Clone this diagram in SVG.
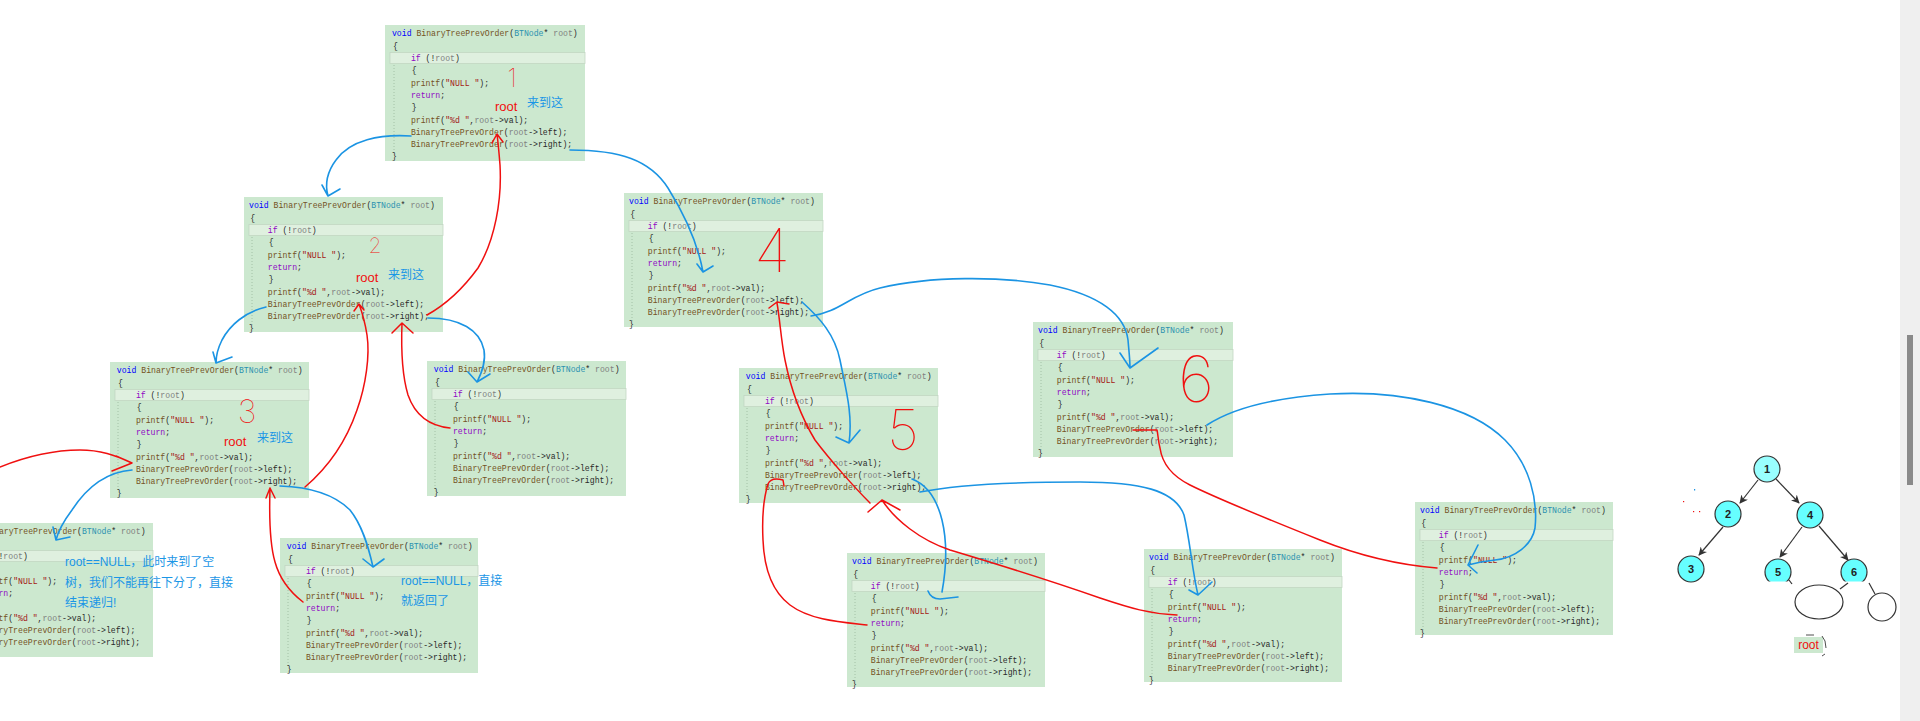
<svg xmlns="http://www.w3.org/2000/svg" width="1920" height="721" viewBox="0 0 1920 721">
<style>
.bg{fill:#cce8cf}
.hl{fill:#dff0df;stroke:#c2d6c3;stroke-width:0.8}
.guide{stroke:#9bb79d;stroke-width:0.8;stroke-dasharray:1 2}
.code{font-family:"Liberation Mono","DejaVu Sans Mono",monospace;font-size:9.6px;fill:#2a2a2a}
.k{fill:#0000ff}.f{fill:#74531f}.t{fill:#2b91af}.p{fill:#808080}.c{fill:#8f08c4}.s{fill:#a31515}
.bl{fill:none;stroke:#1b94e3;stroke-width:1.6;stroke-linecap:round;stroke-linejoin:round}
.rd{fill:none;stroke:#f01010;stroke-width:1.5;stroke-linecap:round;stroke-linejoin:round}
.rt{font-family:"Liberation Sans",sans-serif;font-size:13px;fill:#f01010}
.bt{font-family:"Liberation Sans","Noto Sans CJK SC",sans-serif;font-size:12px;fill:#1a96e6}
.dg{font-family:"Inter","Liberation Sans",sans-serif;font-weight:100;fill:#f01010;text-anchor:middle}
.tn{stroke:#333;stroke-width:1.2}
.te{stroke:#333;stroke-width:1.2;fill:none}
.tl{font-family:"Liberation Sans",sans-serif;font-weight:bold;font-size:11px;fill:#222;text-anchor:middle}
</style>
<defs>
<marker id="ta" viewBox="0 0 10 10" refX="9" refY="5" markerWidth="7" markerHeight="7" orient="auto"><path d="M0,0 L10,5 L0,10 L3,5z" fill="#333"/></marker>
</defs>
<rect width="1920" height="721" fill="#ffffff"/>

<g id="call1" transform="translate(385,25)">
<rect class="bg" width="200" height="136"/><rect class="hl" x="5" y="27.5" width="195" height="11"/><line class="guide" x1="9" y1="40" x2="9" y2="128"/>
<g class="code" transform="scale(0.85,1)">
<text x="8.2" y="11.5"><tspan class="k">void</tspan> <tspan class="f">BinaryTreePrevOrder</tspan>(<tspan class="t">BTNode</tspan>* <tspan class="p">root</tspan>)</text>
<text x="9.5" y="23.8">{</text>
<text x="30.5" y="36.1"><tspan class="c">if</tspan> (!<tspan class="p">root</tspan>)</text>
<text x="31.5" y="48.4">{</text>
<text x="30.5" y="60.7"><tspan class="f">printf</tspan>(<tspan class="s">"NULL "</tspan>);</text>
<text x="30.5" y="73"><tspan class="c">return</tspan>;</text>
<text x="31.5" y="85.3">}</text>
<text x="30.5" y="97.6"><tspan class="f">printf</tspan>(<tspan class="s">"%d "</tspan>,<tspan class="p">root</tspan>-&gt;val);</text>
<text x="30.5" y="109.9"><tspan class="f">BinaryTreePrevOrder</tspan>(<tspan class="p">root</tspan>-&gt;left);</text>
<text x="30.5" y="122.2"><tspan class="f">BinaryTreePrevOrder</tspan>(<tspan class="p">root</tspan>-&gt;right);</text>
<text x="8.2" y="134.5">}</text>
</g></g>

<g id="call2" transform="translate(244,197)">
<rect class="bg" width="199" height="135"/><rect class="hl" x="5" y="27.5" width="194" height="11"/><line class="guide" x1="8" y1="40" x2="8" y2="128"/>
<g class="code" transform="scale(0.85,1)">
<text x="6" y="11.5"><tspan class="k">void</tspan> <tspan class="f">BinaryTreePrevOrder</tspan>(<tspan class="t">BTNode</tspan>* <tspan class="p">root</tspan>)</text>
<text x="7.5" y="23.8">{</text>
<text x="28" y="36.1"><tspan class="c">if</tspan> (!<tspan class="p">root</tspan>)</text>
<text x="29" y="48.4">{</text>
<text x="28" y="60.7"><tspan class="f">printf</tspan>(<tspan class="s">"NULL "</tspan>);</text>
<text x="28" y="73"><tspan class="c">return</tspan>;</text>
<text x="29" y="85.3">}</text>
<text x="28" y="97.6"><tspan class="f">printf</tspan>(<tspan class="s">"%d "</tspan>,<tspan class="p">root</tspan>-&gt;val);</text>
<text x="28" y="109.9"><tspan class="f">BinaryTreePrevOrder</tspan>(<tspan class="p">root</tspan>-&gt;left);</text>
<text x="28" y="122.2"><tspan class="f">BinaryTreePrevOrder</tspan>(<tspan class="p">root</tspan>-&gt;right);</text>
<text x="6" y="134.5">}</text>
</g></g>

<g id="call3" transform="translate(110,362)">
<rect class="bg" width="199" height="136"/><rect class="hl" x="5" y="27.5" width="194" height="11"/><line class="guide" x1="8" y1="40" x2="8" y2="128"/>
<g class="code" transform="scale(0.85,1)">
<text x="8" y="11.5"><tspan class="k">void</tspan> <tspan class="f">BinaryTreePrevOrder</tspan>(<tspan class="t">BTNode</tspan>* <tspan class="p">root</tspan>)</text>
<text x="9.5" y="23.8">{</text>
<text x="30.5" y="36.1"><tspan class="c">if</tspan> (!<tspan class="p">root</tspan>)</text>
<text x="31.5" y="48.4">{</text>
<text x="30.5" y="60.7"><tspan class="f">printf</tspan>(<tspan class="s">"NULL "</tspan>);</text>
<text x="30.5" y="73"><tspan class="c">return</tspan>;</text>
<text x="31.5" y="85.3">}</text>
<text x="30.5" y="97.6"><tspan class="f">printf</tspan>(<tspan class="s">"%d "</tspan>,<tspan class="p">root</tspan>-&gt;val);</text>
<text x="30.5" y="109.9"><tspan class="f">BinaryTreePrevOrder</tspan>(<tspan class="p">root</tspan>-&gt;left);</text>
<text x="30.5" y="122.2"><tspan class="f">BinaryTreePrevOrder</tspan>(<tspan class="p">root</tspan>-&gt;right);</text>
<text x="8" y="134.5">}</text>
</g></g>

<g id="call4" transform="translate(-47,523)">
<rect class="bg" width="200" height="134"/><rect class="hl" x="5" y="27.5" width="195" height="11"/><line class="guide" x1="8" y1="40" x2="8" y2="128"/>
<g class="code" transform="scale(0.85,1)">
<text x="8" y="11.5"><tspan class="k">void</tspan> <tspan class="f">BinaryTreePrevOrder</tspan>(<tspan class="t">BTNode</tspan>* <tspan class="p">root</tspan>)</text>
<text x="9.5" y="23.8">{</text>
<text x="30.5" y="36.1"><tspan class="c">if</tspan> (!<tspan class="p">root</tspan>)</text>
<text x="31.5" y="48.4">{</text>
<text x="30.5" y="60.7"><tspan class="f">printf</tspan>(<tspan class="s">"NULL "</tspan>);</text>
<text x="30.5" y="73"><tspan class="c">return</tspan>;</text>
<text x="31.5" y="85.3">}</text>
<text x="30.5" y="97.6"><tspan class="f">printf</tspan>(<tspan class="s">"%d "</tspan>,<tspan class="p">root</tspan>-&gt;val);</text>
<text x="30.5" y="109.9"><tspan class="f">BinaryTreePrevOrder</tspan>(<tspan class="p">root</tspan>-&gt;left);</text>
<text x="30.5" y="122.2"><tspan class="f">BinaryTreePrevOrder</tspan>(<tspan class="p">root</tspan>-&gt;right);</text>
<text x="8" y="134.5">}</text>
</g></g>

<g id="call5" transform="translate(280,538)">
<rect class="bg" width="198" height="135"/><rect class="hl" x="5" y="27.5" width="193" height="11"/><line class="guide" x1="8" y1="40" x2="8" y2="128"/>
<g class="code" transform="scale(0.85,1)">
<text x="8" y="11.5"><tspan class="k">void</tspan> <tspan class="f">BinaryTreePrevOrder</tspan>(<tspan class="t">BTNode</tspan>* <tspan class="p">root</tspan>)</text>
<text x="9.5" y="23.8">{</text>
<text x="30.5" y="36.1"><tspan class="c">if</tspan> (!<tspan class="p">root</tspan>)</text>
<text x="31.5" y="48.4">{</text>
<text x="30.5" y="60.7"><tspan class="f">printf</tspan>(<tspan class="s">"NULL "</tspan>);</text>
<text x="30.5" y="73"><tspan class="c">return</tspan>;</text>
<text x="31.5" y="85.3">}</text>
<text x="30.5" y="97.6"><tspan class="f">printf</tspan>(<tspan class="s">"%d "</tspan>,<tspan class="p">root</tspan>-&gt;val);</text>
<text x="30.5" y="109.9"><tspan class="f">BinaryTreePrevOrder</tspan>(<tspan class="p">root</tspan>-&gt;left);</text>
<text x="30.5" y="122.2"><tspan class="f">BinaryTreePrevOrder</tspan>(<tspan class="p">root</tspan>-&gt;right);</text>
<text x="8" y="134.5">}</text>
</g></g>

<g id="call6" transform="translate(427,361)">
<rect class="bg" width="199" height="135"/><rect class="hl" x="5" y="27.5" width="194" height="11"/><line class="guide" x1="8" y1="40" x2="8" y2="128"/>
<g class="code" transform="scale(0.85,1)">
<text x="8" y="11.5"><tspan class="k">void</tspan> <tspan class="f">BinaryTreePrevOrder</tspan>(<tspan class="t">BTNode</tspan>* <tspan class="p">root</tspan>)</text>
<text x="9.5" y="23.8">{</text>
<text x="30.5" y="36.1"><tspan class="c">if</tspan> (!<tspan class="p">root</tspan>)</text>
<text x="31.5" y="48.4">{</text>
<text x="30.5" y="60.7"><tspan class="f">printf</tspan>(<tspan class="s">"NULL "</tspan>);</text>
<text x="30.5" y="73"><tspan class="c">return</tspan>;</text>
<text x="31.5" y="85.3">}</text>
<text x="30.5" y="97.6"><tspan class="f">printf</tspan>(<tspan class="s">"%d "</tspan>,<tspan class="p">root</tspan>-&gt;val);</text>
<text x="30.5" y="109.9"><tspan class="f">BinaryTreePrevOrder</tspan>(<tspan class="p">root</tspan>-&gt;left);</text>
<text x="30.5" y="122.2"><tspan class="f">BinaryTreePrevOrder</tspan>(<tspan class="p">root</tspan>-&gt;right);</text>
<text x="8" y="134.5">}</text>
</g></g>

<g id="call7" transform="translate(624,193)">
<rect class="bg" width="199" height="134"/><rect class="hl" x="5" y="27.5" width="194" height="11"/><line class="guide" x1="8" y1="40" x2="8" y2="128"/>
<g class="code" transform="scale(0.85,1)">
<text x="6" y="11.5"><tspan class="k">void</tspan> <tspan class="f">BinaryTreePrevOrder</tspan>(<tspan class="t">BTNode</tspan>* <tspan class="p">root</tspan>)</text>
<text x="7.5" y="23.8">{</text>
<text x="28" y="36.1"><tspan class="c">if</tspan> (!<tspan class="p">root</tspan>)</text>
<text x="29" y="48.4">{</text>
<text x="28" y="60.7"><tspan class="f">printf</tspan>(<tspan class="s">"NULL "</tspan>);</text>
<text x="28" y="73"><tspan class="c">return</tspan>;</text>
<text x="29" y="85.3">}</text>
<text x="28" y="97.6"><tspan class="f">printf</tspan>(<tspan class="s">"%d "</tspan>,<tspan class="p">root</tspan>-&gt;val);</text>
<text x="28" y="109.9"><tspan class="f">BinaryTreePrevOrder</tspan>(<tspan class="p">root</tspan>-&gt;left);</text>
<text x="28" y="122.2"><tspan class="f">BinaryTreePrevOrder</tspan>(<tspan class="p">root</tspan>-&gt;right);</text>
<text x="6" y="134.5">}</text>
</g></g>

<g id="call8" transform="translate(739,368)">
<rect class="bg" width="199" height="135"/><rect class="hl" x="5" y="27.5" width="194" height="11"/><line class="guide" x1="8" y1="40" x2="8" y2="128"/>
<g class="code" transform="scale(0.85,1)">
<text x="8" y="11.5"><tspan class="k">void</tspan> <tspan class="f">BinaryTreePrevOrder</tspan>(<tspan class="t">BTNode</tspan>* <tspan class="p">root</tspan>)</text>
<text x="9.5" y="23.8">{</text>
<text x="30.5" y="36.1"><tspan class="c">if</tspan> (!<tspan class="p">root</tspan>)</text>
<text x="31.5" y="48.4">{</text>
<text x="30.5" y="60.7"><tspan class="f">printf</tspan>(<tspan class="s">"NULL "</tspan>);</text>
<text x="30.5" y="73"><tspan class="c">return</tspan>;</text>
<text x="31.5" y="85.3">}</text>
<text x="30.5" y="97.6"><tspan class="f">printf</tspan>(<tspan class="s">"%d "</tspan>,<tspan class="p">root</tspan>-&gt;val);</text>
<text x="30.5" y="109.9"><tspan class="f">BinaryTreePrevOrder</tspan>(<tspan class="p">root</tspan>-&gt;left);</text>
<text x="30.5" y="122.2"><tspan class="f">BinaryTreePrevOrder</tspan>(<tspan class="p">root</tspan>-&gt;right);</text>
<text x="8" y="134.5">}</text>
</g></g>

<g id="call9" transform="translate(1033,322)">
<rect class="bg" width="200" height="135"/><rect class="hl" x="5" y="27.5" width="195" height="11"/><line class="guide" x1="8" y1="40" x2="8" y2="128"/>
<g class="code" transform="scale(0.85,1)">
<text x="6" y="11.5"><tspan class="k">void</tspan> <tspan class="f">BinaryTreePrevOrder</tspan>(<tspan class="t">BTNode</tspan>* <tspan class="p">root</tspan>)</text>
<text x="7.5" y="23.8">{</text>
<text x="28" y="36.1"><tspan class="c">if</tspan> (!<tspan class="p">root</tspan>)</text>
<text x="29" y="48.4">{</text>
<text x="28" y="60.7"><tspan class="f">printf</tspan>(<tspan class="s">"NULL "</tspan>);</text>
<text x="28" y="73"><tspan class="c">return</tspan>;</text>
<text x="29" y="85.3">}</text>
<text x="28" y="97.6"><tspan class="f">printf</tspan>(<tspan class="s">"%d "</tspan>,<tspan class="p">root</tspan>-&gt;val);</text>
<text x="28" y="109.9"><tspan class="f">BinaryTreePrevOrder</tspan>(<tspan class="p">root</tspan>-&gt;left);</text>
<text x="28" y="122.2"><tspan class="f">BinaryTreePrevOrder</tspan>(<tspan class="p">root</tspan>-&gt;right);</text>
<text x="6" y="134.5">}</text>
</g></g>

<g id="call10" transform="translate(847,553)">
<rect class="bg" width="198" height="134"/><rect class="hl" x="5" y="27.5" width="193" height="11"/><line class="guide" x1="8" y1="40" x2="8" y2="128"/>
<g class="code" transform="scale(0.85,1)">
<text x="6" y="11.5"><tspan class="k">void</tspan> <tspan class="f">BinaryTreePrevOrder</tspan>(<tspan class="t">BTNode</tspan>* <tspan class="p">root</tspan>)</text>
<text x="7.5" y="23.8">{</text>
<text x="28" y="36.1"><tspan class="c">if</tspan> (!<tspan class="p">root</tspan>)</text>
<text x="29" y="48.4">{</text>
<text x="28" y="60.7"><tspan class="f">printf</tspan>(<tspan class="s">"NULL "</tspan>);</text>
<text x="28" y="73"><tspan class="c">return</tspan>;</text>
<text x="29" y="85.3">}</text>
<text x="28" y="97.6"><tspan class="f">printf</tspan>(<tspan class="s">"%d "</tspan>,<tspan class="p">root</tspan>-&gt;val);</text>
<text x="28" y="109.9"><tspan class="f">BinaryTreePrevOrder</tspan>(<tspan class="p">root</tspan>-&gt;left);</text>
<text x="28" y="122.2"><tspan class="f">BinaryTreePrevOrder</tspan>(<tspan class="p">root</tspan>-&gt;right);</text>
<text x="6" y="134.5">}</text>
</g></g>

<g id="call11" transform="translate(1144,549)">
<rect class="bg" width="198" height="133"/><rect class="hl" x="5" y="27.5" width="193" height="11"/><line class="guide" x1="8" y1="40" x2="8" y2="128"/>
<g class="code" transform="scale(0.85,1)">
<text x="6" y="11.5"><tspan class="k">void</tspan> <tspan class="f">BinaryTreePrevOrder</tspan>(<tspan class="t">BTNode</tspan>* <tspan class="p">root</tspan>)</text>
<text x="7.5" y="23.8">{</text>
<text x="28" y="36.1"><tspan class="c">if</tspan> (!<tspan class="p">root</tspan>)</text>
<text x="29" y="48.4">{</text>
<text x="28" y="60.7"><tspan class="f">printf</tspan>(<tspan class="s">"NULL "</tspan>);</text>
<text x="28" y="73"><tspan class="c">return</tspan>;</text>
<text x="29" y="85.3">}</text>
<text x="28" y="97.6"><tspan class="f">printf</tspan>(<tspan class="s">"%d "</tspan>,<tspan class="p">root</tspan>-&gt;val);</text>
<text x="28" y="109.9"><tspan class="f">BinaryTreePrevOrder</tspan>(<tspan class="p">root</tspan>-&gt;left);</text>
<text x="28" y="122.2"><tspan class="f">BinaryTreePrevOrder</tspan>(<tspan class="p">root</tspan>-&gt;right);</text>
<text x="6" y="134.5">}</text>
</g></g>

<g id="call12" transform="translate(1415,502)">
<rect class="bg" width="198" height="133"/><rect class="hl" x="5" y="27.5" width="193" height="11"/><line class="guide" x1="8" y1="40" x2="8" y2="128"/>
<g class="code" transform="scale(0.85,1)">
<text x="6" y="11.5"><tspan class="k">void</tspan> <tspan class="f">BinaryTreePrevOrder</tspan>(<tspan class="t">BTNode</tspan>* <tspan class="p">root</tspan>)</text>
<text x="7.5" y="23.8">{</text>
<text x="28" y="36.1"><tspan class="c">if</tspan> (!<tspan class="p">root</tspan>)</text>
<text x="29" y="48.4">{</text>
<text x="28" y="60.7"><tspan class="f">printf</tspan>(<tspan class="s">"NULL "</tspan>);</text>
<text x="28" y="73"><tspan class="c">return</tspan>;</text>
<text x="29" y="85.3">}</text>
<text x="28" y="97.6"><tspan class="f">printf</tspan>(<tspan class="s">"%d "</tspan>,<tspan class="p">root</tspan>-&gt;val);</text>
<text x="28" y="109.9"><tspan class="f">BinaryTreePrevOrder</tspan>(<tspan class="p">root</tspan>-&gt;left);</text>
<text x="28" y="122.2"><tspan class="f">BinaryTreePrevOrder</tspan>(<tspan class="p">root</tspan>-&gt;right);</text>
<text x="6" y="134.5">}</text>
</g></g>

<g id="annotations">
<text class="dg" x="512" y="87" font-size="26">1</text>
<text class="dg" x="375" y="253" font-size="21">2</text>
<text class="dg" x="247" y="423" font-size="32">3</text>
<text class="dg" x="772" y="272" font-size="60">4</text>
<text class="dg" x="903" y="450" font-size="56">5</text>
<text class="dg" x="1196" y="402" font-size="64">6</text>
<text class="rt" x="495" y="111">root</text>
<text class="bt" x="527" y="107">来到这</text>
<text class="rt" x="356" y="282">root</text>
<text class="bt" x="388" y="279">来到这</text>
<text class="rt" x="224" y="446">root</text>
<text class="bt" x="257" y="442">来到这</text>
<text class="bt" x="65" y="566">root==NULL，此时来到了空</text>
<text class="bt" x="65" y="587">树，我们不能再往下分了，直接</text>
<text class="bt" x="65" y="607">结束递归!</text>
<text class="bt" x="401" y="585">root==NULL，直接</text>
<text class="bt" x="401" y="605">就返回了</text>
</g>

<g id="connectors">
<path class="bl" d="M411,136 C380,134 350,140 336,160 C327,172 325,185 328,196 M328,196 L322,185 M328,196 L340,189"/>
<path class="bl" d="M570,150 C620,150 650,160 668,188 C688,220 698,245 703,272 M703,272 L697,264 M703,272 L713,266"/>
<path class="bl" d="M266,307 C245,312 230,325 222,340 C217,350 216,357 216,363 M216,363 L213,352 M216,363 L232,357"/>
<path class="bl" d="M428,318 C460,318 480,330 484,350 C486,362 482,372 477,382 M477,382 L468,372 M477,382 L490,374"/>
<path class="bl" d="M132,470 C105,472 85,490 72,510 C63,522 58,532 56,540 M56,540 L53,527 M56,540 L70,537"/>
<path class="bl" d="M280,486 C310,487 335,495 350,510 C362,525 368,545 373,567 M373,567 L363,559 M373,567 L384,559"/>
<path class="bl" d="M802,302 C820,318 835,335 840,360 C846,390 853,415 849,443 M849,443 L836,437 M849,443 L860,430"/>
<path class="bl" d="M811,316 C840,312 850,295 880,288 C930,276 1000,276 1050,285 C1100,295 1125,315 1128,340 C1129,352 1130,360 1130,368 M1130,368 L1120,353 M1130,368 L1158,348"/>
<path class="bl" d="M912,479 C928,485 937,500 942,520 C948,545 946,570 942,592 M928,591 Q931,599 940,599 L958,597"/>
<path class="bl" d="M920,492 C960,484 1020,482 1080,482 C1140,482 1175,490 1184,515 C1190,540 1192,570 1198,595 M1198,595 L1189,590 M1198,595 L1212,582"/>
<path class="bl" d="M1207,425 C1230,410 1270,398 1330,394 C1400,390 1470,405 1505,440 C1530,465 1538,500 1535,528 C1532,545 1515,558 1495,560 C1485,561 1475,563 1468,565 M1468,565 L1478,545 M1468,565 L1477,573"/>
<path class="rd" d="M427,315 C445,305 462,290 478,268 C495,240 502,200 500,165 C499,152 498,142 497,134 M497,134 L492,143 M497,134 L503,142"/>
<path class="rd" d="M305,487 C325,470 345,445 357,410 C366,385 370,355 367,335 C365,322 362,312 359,304 M359,304 L354,311 M359,304 L364,310"/>
<path class="rd" d="M450,428 C430,426 415,415 408,395 C402,375 401,350 402,323 M402,323 L392,333 M402,323 L413,333"/>
<path class="rd" d="M0,467 C25,457 50,450 80,450 C100,450 115,455 132,463 M132,463 L116,456 M132,463 L112,471"/>
<path class="rd" d="M303,602 C290,592 280,580 275,562 C270,545 269,520 270,488 M270,488 L266,498 M270,488 L275,498"/>
<path class="rd" d="M1177,615 C1150,614 1130,608 1100,598 C1060,584 1000,565 950,550 C920,540 895,520 882,500 M882,500 L868,512 M882,500 L900,510"/>
<path class="rd" d="M870,503 C855,488 830,460 815,440 C800,415 790,385 785,360 C781,340 780,320 777,303 M769,308 L777,302 L789,304"/>
<path class="rd" d="M867,625 C840,622 810,620 790,605 C770,590 764,565 763,540 C762,520 763,500 768,484 C770,479 776,478 783,480 L784,486"/>
<path class="rd" d="M1437,568 C1400,565 1360,556 1320,540 C1270,520 1220,500 1190,485 C1170,475 1162,462 1160,448 C1158,440 1158,434 1157,430 L1133,430"/>
</g>

<g id="tree">
<line class="te" x1="1758" y1="480" x2="1740" y2="503" marker-end="url(#ta)"/>
<line class="te" x1="1776" y1="479" x2="1799" y2="503" marker-end="url(#ta)"/>
<line class="te" x1="1723" y1="527" x2="1699" y2="555" marker-end="url(#ta)"/>
<line class="te" x1="1802" y1="527" x2="1780" y2="557" marker-end="url(#ta)"/>
<line class="te" x1="1819" y1="526" x2="1848" y2="560" marker-end="url(#ta)"/>
<g id="t1"><circle class="tn" cx="1767" cy="469" r="13" fill="#99ffff"/><text class="tl" x="1767" y="473">1</text></g>
<g id="t2"><circle class="tn" cx="1728" cy="514" r="13" fill="#66ffff"/><text class="tl" x="1728" y="518">2</text></g>
<g id="t4"><circle class="tn" cx="1810" cy="515" r="13" fill="#66ffff"/><text class="tl" x="1810" y="519">4</text></g>
<g id="t3"><circle class="tn" cx="1691" cy="569" r="13" fill="#66ffff"/><text class="tl" x="1691" y="573">3</text></g>
<g id="t5"><circle class="tn" cx="1778" cy="572" r="13" fill="#66ffff"/><text class="tl" x="1778" y="576">5</text></g>
<g id="t6"><circle class="tn" cx="1854" cy="572" r="13" fill="#66ffff"/><text class="tl" x="1854" y="576">6</text></g>
<rect x="1762" y="581.5" width="110" height="6" fill="#ffffff"/>
<line class="te" x1="1789" y1="580" x2="1792" y2="584"/>
<line class="te" x1="1840" y1="589" x2="1848" y2="583"/>
<line class="te" x1="1869" y1="583" x2="1875" y2="594"/>
<ellipse class="te" cx="1819" cy="602" rx="24" ry="17"/>
<circle class="te" cx="1882" cy="607" r="14"/>
<rect x="1794" y="637" width="29" height="16" fill="#cce8cf"/>
<text x="1808.5" y="649" font-family="Liberation Sans, sans-serif" font-size="12" fill="#f01010" text-anchor="middle">root</text>
<path d="M1806,635 L1814,635 M1822,636 Q1826,640 1826,648 M1825,654 L1822,656" stroke="#222" stroke-width="0.8" fill="none"/>
<rect x="1694" y="489" width="1.2" height="1.5" fill="#1b94e3"/>
<rect x="1683" y="501" width="1.2" height="1.2" fill="#f01010"/>
<rect x="1693" y="511" width="1.2" height="1.2" fill="#f01010"/>
<rect x="1699" y="511" width="1.2" height="1.2" fill="#f01010"/>
</g>

<g id="scrollbar">
<rect x="1900" y="0" width="20" height="721" fill="#efefef"/>
<rect x="1907" y="335" width="6" height="150" fill="#8a8a8a"/>
</g>
</svg>
